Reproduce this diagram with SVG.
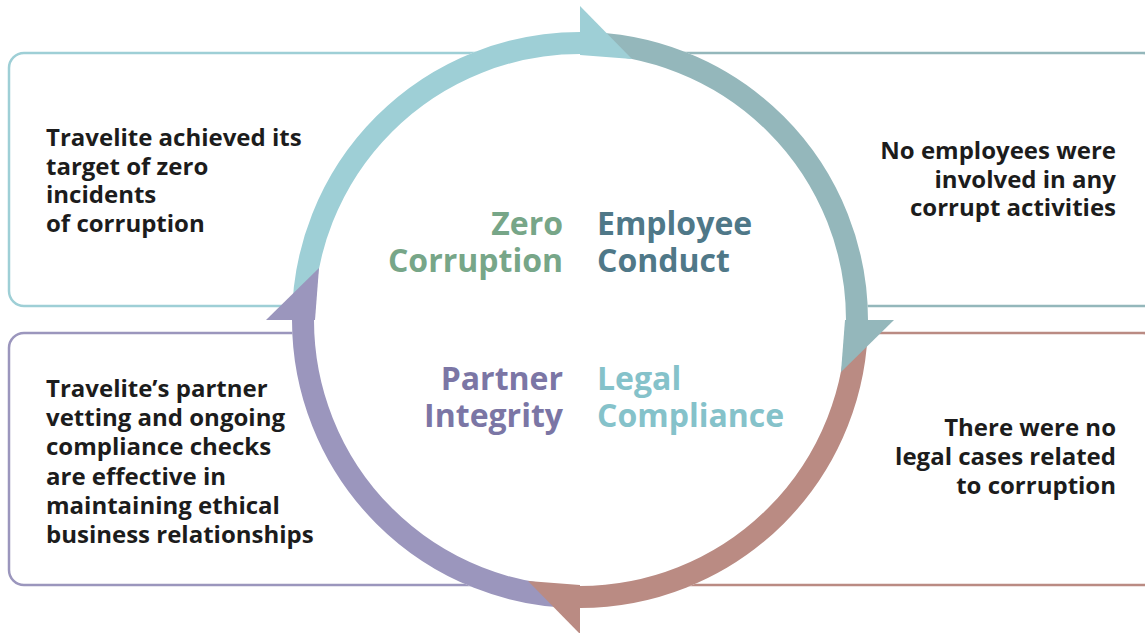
<svg xmlns="http://www.w3.org/2000/svg" width="1145" height="633" viewBox="0 0 1145 633">
  <defs>
    <style>
      .box { fill: none; stroke-width: 2.5; }
      .note { font-family: "Open Sans", "Liberation Sans", sans-serif; font-weight: 700; font-size: 24px; fill: #1c1c1c; }
      .label { font-family: "Open Sans", "Liberation Sans", sans-serif; font-weight: 700; font-size: 32px; }
      .arc { fill: none; stroke-width: 22; }
      .divider { stroke-width: 1.4; fill: none; }
    </style>
    <linearGradient id="fadeV" x1="0" y1="0" x2="0" y2="1">
      <stop offset="0" stop-color="#b0b0b0" stop-opacity="0.3"/>
      <stop offset="0.15" stop-color="#a8a8a8"/>
      <stop offset="0.85" stop-color="#a8a8a8"/>
      <stop offset="1" stop-color="#b0b0b0" stop-opacity="0.3"/>
    </linearGradient>
    <linearGradient id="fadeH" x1="0" y1="0" x2="1" y2="0">
      <stop offset="0" stop-color="#b0b0b0" stop-opacity="0.3"/>
      <stop offset="0.15" stop-color="#a8a8a8"/>
      <stop offset="0.85" stop-color="#a8a8a8"/>
      <stop offset="1" stop-color="#b0b0b0" stop-opacity="0.3"/>
    </linearGradient>
  </defs>

  <rect width="1145" height="633" fill="#ffffff"/>

  <!-- outcome boxes -->
  <g id="box-zero-corruption">
    <rect class="box" x="9" y="53" width="600" height="253" rx="15" stroke="#9ecfd6"/>
    <text class="note" x="46" y="146">Travelite achieved its</text>
    <text class="note" x="46" y="175">target of zero</text>
    <text class="note" x="46" y="203">incidents</text>
    <text class="note" x="46" y="232">of corruption</text>
  </g>
  <g id="box-employee-conduct">
    <rect class="box" x="580" y="53" width="578" height="253" rx="15" stroke="#94b7bb"/>
    <text class="note" x="1116" y="159" text-anchor="end">No employees were</text>
    <text class="note" x="1116" y="188" text-anchor="end">involved in any</text>
    <text class="note" x="1116" y="216" text-anchor="end">corrupt activities</text>
  </g>
  <g id="box-partner-integrity">
    <rect class="box" x="9" y="333" width="600" height="252" rx="15" stroke="#9b96bd"/>
    <text class="note" x="46" y="397">Travelite’s partner</text>
    <text class="note" x="46" y="426">vetting and ongoing</text>
    <text class="note" x="46" y="455">compliance checks</text>
    <text class="note" x="46" y="485">are effective in</text>
    <text class="note" x="46" y="514">maintaining ethical</text>
    <text class="note" x="46" y="543">business relationships</text>
  </g>
  <g id="box-legal-compliance">
    <rect class="box" x="580" y="333" width="578" height="252" rx="15" stroke="#ba8b83"/>
    <text class="note" x="1116" y="436" text-anchor="end">There were no</text>
    <text class="note" x="1116" y="465" text-anchor="end">legal cases related</text>
    <text class="note" x="1116" y="494" text-anchor="end">to corruption</text>
  </g>

  <!-- central disc -->
  <g id="cycle">
    <circle cx="580" cy="320" r="288" fill="#ffffff"/>
    <line class="divider" x1="580" y1="78" x2="580" y2="560" stroke="url(#fadeV)"/>
    <line class="divider" x1="340" y1="320" x2="822" y2="320" stroke="url(#fadeH)"/>
  </g>

  <!-- cycle connectors: four quarter arcs with half arrowheads -->
  <g id="connectors">
    <path class="arc" stroke="#9ecfd6" d="M303,320 A277,277 0 0 1 580,43"/>
    <path class="arc" stroke="#94b7bb" d="M580,43 A277,277 0 0 1 857,320"/>
    <path class="arc" stroke="#ba8b83" d="M857,320 A277,277 0 0 1 580,597"/>
    <path class="arc" stroke="#9b96bd" d="M580,597 A277,277 0 0 1 303,320"/>
    <polygon fill="#9ecfd6" points="580,6 580,55 632,59"/>
    <polygon fill="#94b7bb" points="894,320 845,320 841,372"/>
    <polygon fill="#ba8b83" points="580,634 580,585 528,581"/>
    <polygon fill="#9b96bd" points="266,320 315,320 319,268"/>
  </g>

  <!-- quadrant labels -->
  <g id="label-zero-corruption">
    <text class="label" x="563" y="235" text-anchor="end" fill="#77a688">Zero</text>
    <text class="label" x="563" y="272" text-anchor="end" fill="#77a688">Corruption</text>
  </g>
  <g id="label-employee-conduct">
    <text class="label" x="597" y="235" fill="#4f7888">Employee</text>
    <text class="label" x="597" y="272" fill="#4f7888">Conduct</text>
  </g>
  <g id="label-partner-integrity">
    <text class="label" x="563" y="390" text-anchor="end" fill="#7b76a5">Partner</text>
    <text class="label" x="563" y="427" text-anchor="end" fill="#7b76a5">Integrity</text>
  </g>
  <g id="label-legal-compliance">
    <text class="label" x="597" y="390" fill="#85c2ca">Legal</text>
    <text class="label" x="597" y="427" fill="#85c2ca">Compliance</text>
  </g>
</svg>
